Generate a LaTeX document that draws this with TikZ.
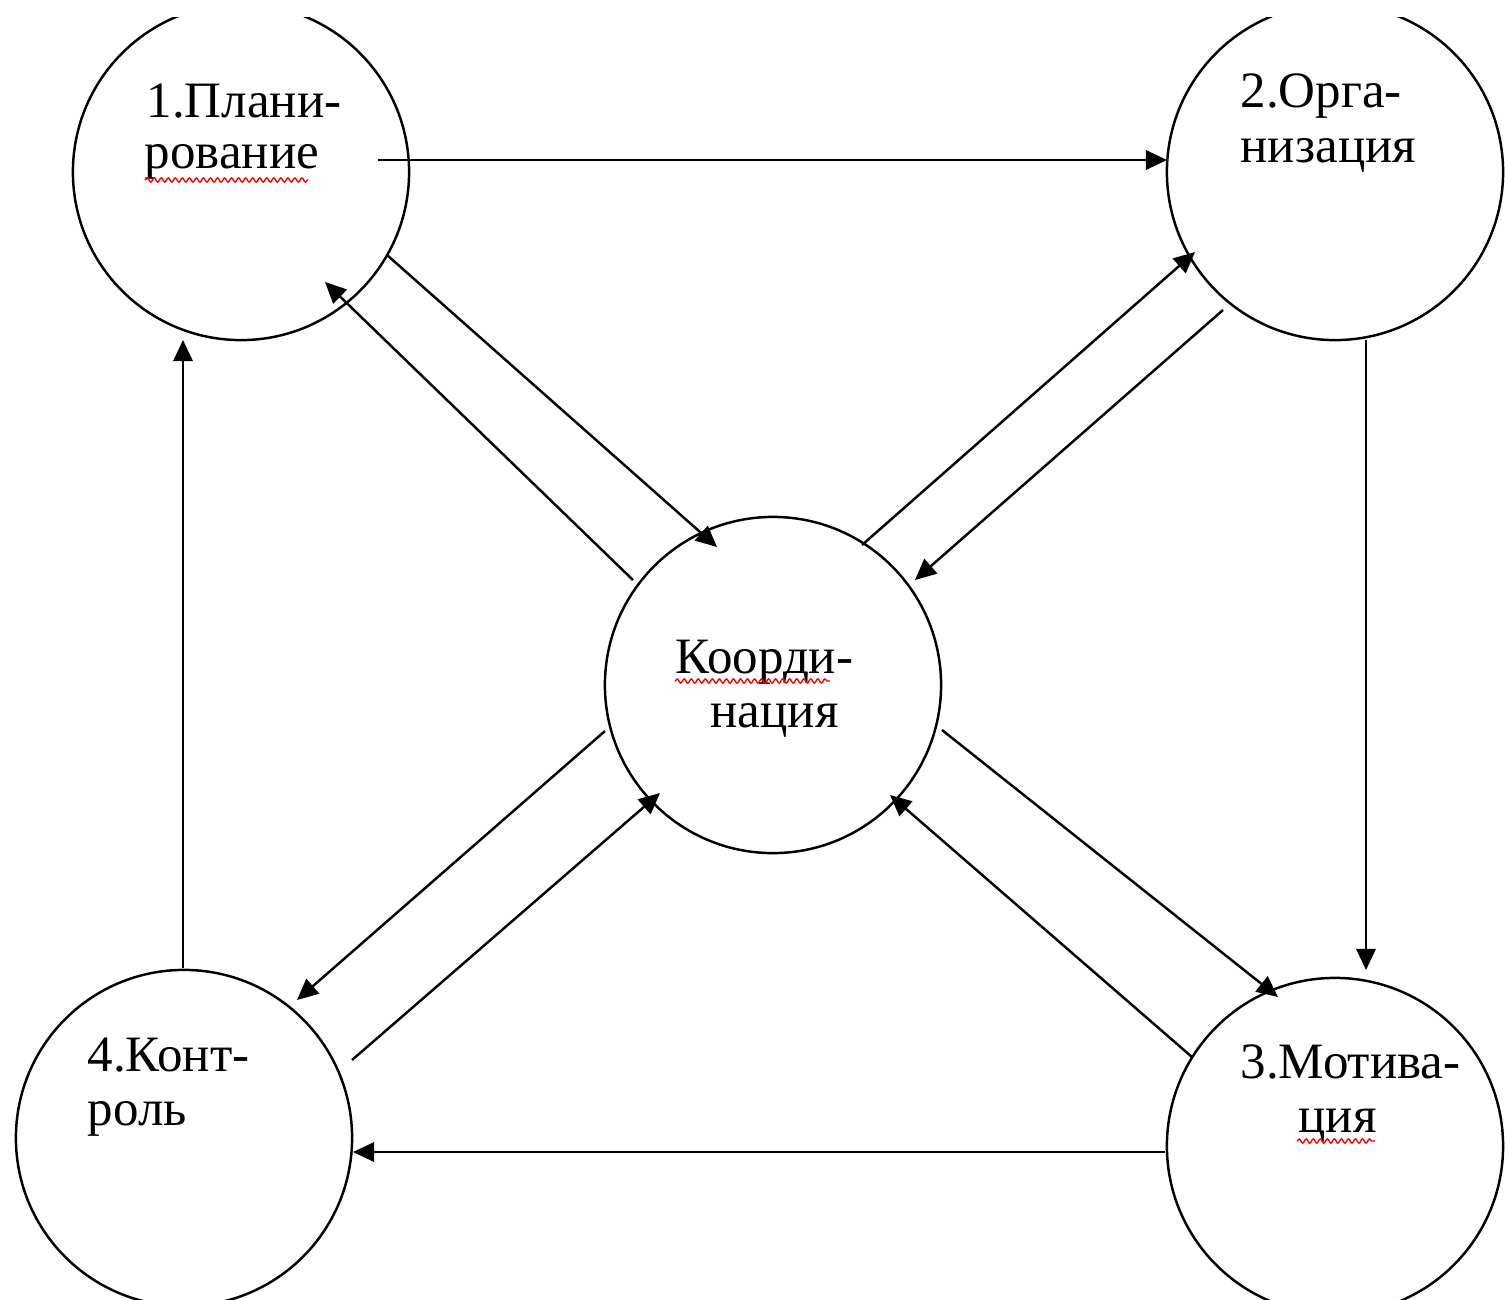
\documentclass[tikz,border=0pt]{standalone}
\usepackage{fontspec}
\setmainfont{Liberation Serif}
\usetikzlibrary{arrows.meta,decorations.pathmorphing}

\begin{document}
\begin{tikzpicture}[x=0.01cm, y=-0.01cm,
    stage/.style={circle, draw, line width=0.7pt, minimum size=3.36cm, inner sep=0pt},
    word/.style={anchor=base west, inner sep=0pt, font=\fontsize{14.5pt}{17pt}\selectfont},
    arrow/.style={-{Triangle[length=6pt,width=5.5pt]}, line width=0.7pt},
    spell/.style={red, line width=0.4pt, decorate,
                  decoration={snake, amplitude=0.6pt, segment length=2pt}}
]
\useasboundingbox (0,0) rectangle (1505,1299);
\clip (0,17) rectangle (1505,1299);

% Stages
\node[stage] (plan)  at (241,172)  {};
\node[stage] (org)   at (1335,172) {};
\node[stage] (coord) at (773,685)  {};
\node[stage] (motiv) at (1335,1146) {};
\node[stage] (ctrl)  at (184,1138) {};

% Labels
\node[word] (plan1)  at (146,117)  {1.Плани-};
\node[word] (plan2)  at (144,168)  {рование};
\node[word] (org1)   at (1240,107) {2.Орга-};
\node[word] (org2)   at (1240,162) {низация};
\node[word] (coord1) at (675,673)  {Коорди-};
\node[word] (coord2) at (710,727)  {нация};
\node[word] (motiv1) at (1240,1078) {3.Мотива-};
\node[word] (motiv2) at (1298,1132) {ция};
\node[word] (ctrl1)  at (87,1071)  {4.Конт-};
\node[word] (ctrl2)  at (87,1125)  {роль};

% Spell-check marks
\draw[spell] (145,180) -- (308,180);
\draw[spell] (675,681) -- (830,681);
\draw[spell] (1297,1141) -- (1375,1141);

% Outer ring
\coordinate (po) at (378,160);   \coordinate (op) at (1167,160);
\coordinate (om) at (1366,340);  \coordinate (mo) at (1366,970);
\coordinate (mc) at (1165,1152); \coordinate (cm) at (353,1152);
\coordinate (cp) at (183,968);   \coordinate (pc) at (183,340);
\draw[arrow] (po) -- (op);
\draw[arrow] (om) -- (mo);
\draw[arrow] (mc) -- (cm);
\draw[arrow] (cp) -- (pc);

% To and from coordination
\coordinate (p0s) at (387,255);   \coordinate (p0e) at (717,547);
\coordinate (0ps) at (633,580);   \coordinate (0pe) at (325,282);
\coordinate (0os) at (862,545);   \coordinate (0oe) at (1195,252);
\coordinate (o0s) at (1223,310);  \coordinate (o0e) at (915,580);
\coordinate (0cs) at (605,731);   \coordinate (0ce) at (297,1000);
\coordinate (c0s) at (352,1060);  \coordinate (c0e) at (660,793);
\coordinate (0ms) at (942,730);   \coordinate (0me) at (1278,997);
\coordinate (m0s) at (1192,1057); \coordinate (m0e) at (890,795);
\draw[arrow] (p0s) -- (p0e);
\draw[arrow] (0ps) -- (0pe);
\draw[arrow] (0os) -- (0oe);
\draw[arrow] (o0s) -- (o0e);
\draw[arrow] (0cs) -- (0ce);
\draw[arrow] (c0s) -- (c0e);
\draw[arrow] (0ms) -- (0me);
\draw[arrow] (m0s) -- (m0e);
\end{tikzpicture}
\end{document}
